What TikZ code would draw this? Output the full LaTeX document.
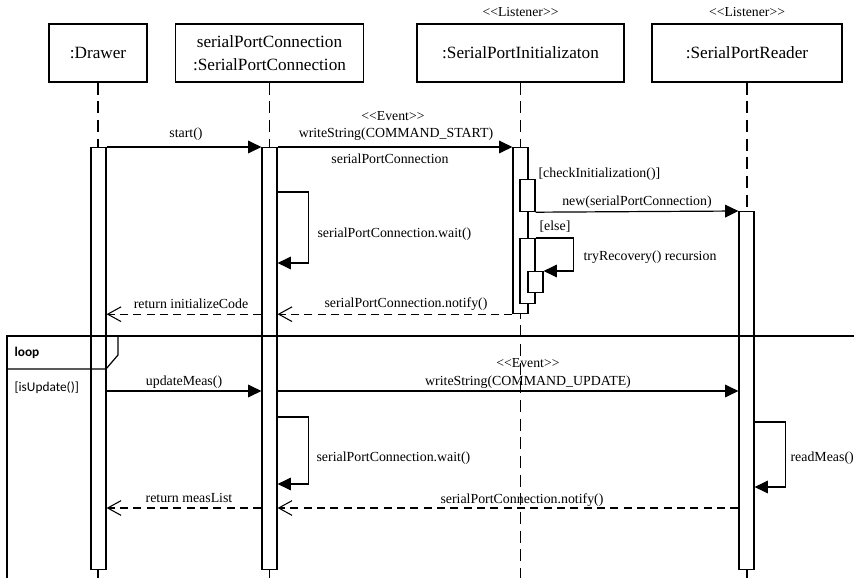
\documentclass[tikz,border=0pt]{standalone}
\usepackage{fontspec}
\setmainfont{Liberation Serif}
\newfontfamily\diagserif{Liberation Serif}
\newfontfamily\framesans{Carlito}
\usetikzlibrary{arrows.meta}

\begin{document}
\begin{tikzpicture}[x=0.75pt,y=-0.75pt,line width=0.9pt,
  head/.style={draw,fill=white,inner sep=0pt,minimum height=43.5pt,align=center,
    font=\diagserif\fontsize{12.9}{17.2}\selectfont},
  stereo/.style={inner sep=0pt,font=\diagserif\fontsize{10.3}{12}\selectfont},
  msg/.style={inner sep=0pt,font=\diagserif\fontsize{10.4}{12}\selectfont},
  lifeline/.style={dash pattern=on 9pt off 5pt},
  actbar/.style={draw,fill=white,inner sep=0pt,minimum width=11.25pt,anchor=north},
  call/.style={-{Triangle[length=10pt,width=9.5pt]}},
  reply/.style={dash pattern=on 6pt off 4pt,
    -{Straight Barb[length=10pt,width=11pt,line width=0.8pt]}}]
\useasboundingbox (0,0) rectangle (854,578);

% participants
\node[head,minimum width=73.5pt] (drawer) at (98,53) {:Drawer};
\node[head,minimum width=141pt] (conn) at (269.5,53)
  {serialPortConnection\\:SerialPortConnection};
\node[head,minimum width=155.25pt] (init) at (520.5,53) {:SerialPortInitializaton};
\node[head,minimum width=142.5pt] (reader) at (747,53) {:SerialPortReader};
\node[stereo] (st1) at (520.5,12) {<{}<Listener>{}>};
\node[stereo] (st2) at (747,12) {<{}<Listener>{}>};

% lifelines
\coordinate (drawerEnd) at (98,578);
\coordinate (connEnd) at (269.5,578);
\coordinate (initEnd) at (520.5,578);
\coordinate (readerEnd) at (747,578);
\draw[lifeline] (drawer.south) -- (drawerEnd);
\draw[lifeline] (conn.south) -- (connEnd);
\draw[lifeline] (init.south) -- (initEnd);
\draw[lifeline] (reader.south) -- (readerEnd);

% activation bars
\node[actbar,minimum height=316.5pt] (barD) at (98.5,147) {};
\node[actbar,minimum height=316.5pt] (barC) at (269.5,147) {};
\node[actbar,minimum height=124.5pt] (barI) at (520.5,147) {};
\node[actbar,minimum height=24pt] (barChk) at (527.5,179) {};
\node[actbar,minimum height=48.75pt] (barElse) at (527.5,238) {};
\node[actbar,minimum height=15.75pt] (barRec) at (535.5,271) {};
\node[actbar,minimum height=268.5pt] (barR) at (746.5,211) {};

% initialisation messages
\draw[call] (barD.north east) -- (barC.north west);
\node[msg] (lStart) at (186,134) {start()};
\draw[call] (barC.north east) -- (barI.north west);
\node[stereo] (lEv1) at (393,116) {<{}<Event>{}>};
\node[msg] (lWs1) at (396,134) {writeString(COMMAND\_START)};
\node[msg] (lSpc) at (390,159) {serialPortConnection};

\draw[call] (barC.east |- 0,192) -- ++(31,0) -- ++(0,71) -- ++(-31,0);
\node[msg,anchor=west] (lWait1) at (317,234) {serialPortConnection.wait()};

\node[msg,anchor=west] (lChk) at (538,174) {[checkInitialization()]};
\draw[call] (barChk.south east) -- (barR.north west);
\node[msg] (lNew) at (637,202) {new(serialPortConnection)};
\node[msg,anchor=west] (lElse) at (539,227) {[else]};
\draw[call] (barElse.north east) -- ++(38,0) -- ++(0,33) -- (barRec.north east |- 0,271);
\node[msg,anchor=west] (lRec) at (583,257) {tryRecovery() recursion};

\draw[reply] (barI.south west) -- (barC.east |- barI.south);
\node[msg] (lNot1) at (406,304) {serialPortConnection.notify()};
\draw[reply] (barC.west |- barI.south) -- (barD.east |- barI.south);
\node[msg] (lRet1) at (191,304) {return initializeCode};

% loop fragment
\coordinate (frTL) at (7,336);
\coordinate (frTR) at (854,336);
\coordinate (frBL) at (7,578);
\draw (frTR) -- (frTL) -- (frBL);
\draw (frTL) -- (118,336) -- (118,355) -- (106,369) -- (7,369);
\node[inner sep=0pt,anchor=west,font=\framesans\bfseries\fontsize{10}{12}\selectfont] (lLoop) at (14,353) {loop};
\node[inner sep=0pt,anchor=west,font=\framesans\fontsize{10}{12}\selectfont] (lGuard) at (14,388) {[isUpdate()]};

% update messages
\draw[call] (barD.east |- 0,391) -- (barC.west |- 0,391);
\node[msg] (lUpd) at (184,382) {updateMeas()};
\draw[call] (barC.east |- 0,391) -- (barR.west |- 0,391);
\node[stereo] (lEv2) at (528,363) {<{}<Event>{}>};
\node[msg] (lWs2) at (528,382) {writeString(COMMAND\_UPDATE)};

\draw[call] (barC.east |- 0,417) -- ++(31,0) -- ++(0,67) -- ++(-31,0);
\node[msg,anchor=west] (lWait2) at (316,458) {serialPortConnection.wait()};

\draw[call] (barR.east |- 0,422) -- ++(31,0) -- ++(0,65) -- ++(-31,0);
\node[msg,anchor=west] (lRead) at (790,458) {readMeas()};

\draw[reply] (barR.west |- 0,508) -- (barC.east |- 0,508);
\node[msg] (lNot2) at (522,500) {serialPortConnection.notify()};
\draw[reply] (barC.west |- 0,508) -- (barD.east |- 0,508);
\node[msg] (lRet2) at (189,498) {return measList};
\end{tikzpicture}
\end{document}
